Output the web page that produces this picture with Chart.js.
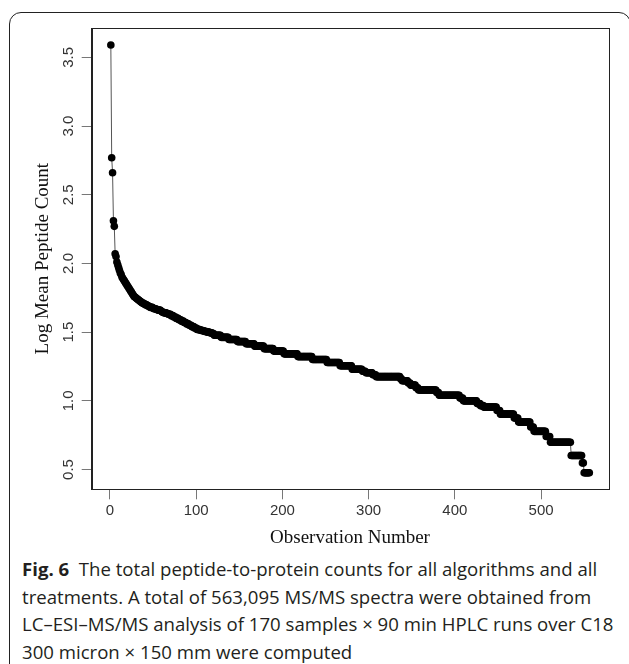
<!DOCTYPE html>
<html><head><meta charset="utf-8">
<script src="https://cdn.jsdelivr.net/npm/chart.js@4"></script>
<style>
html,body{margin:0;padding:0;background:#fff;width:629px;height:664px;overflow:hidden;position:relative}
#frame{position:absolute;left:9px;top:12px;width:622px;height:720px;border:1.5px solid #222;border-radius:12px;box-sizing:border-box}
#wrap{position:absolute;left:0;top:0;width:629px;height:550px}
#cap{position:absolute;left:22px;top:555px;width:610px;font-family:"Open Sans";font-size:18.6px;line-height:27.5px;color:#231f20;white-space:nowrap}
</style></head><body>
<div id="frame"></div>
<div id="wrap"><canvas id="c" width="629" height="550"></canvas></div>
<div id="cap"><b>Fig. 6</b>&nbsp; The total peptide-to-protein counts for all algorithms and all<br>treatments. A total of 563,095 MS/MS spectra were obtained from<br>LC–ESI–MS/MS analysis of 170 samples × 90 min HPLC runs over C18<br>300 micron × 150 mm were computed</div>
<script>
// Sorted log mean peptide counts, run-length: level value and how many observations share it
const obsLevels = [
  3.59, 2.77, 2.66, 2.31, 2.27, 2.07, 2.05,
  2.01, 1.99, 1.97, 1.95, 1.93, 1.92, 1.90, 1.89, 1.88, 1.87, 1.86, 1.85, 1.84, 1.83, 1.82, 1.81, 1.80, 1.79, 1.78, 1.77, 1.76, 1.755, 1.75,
  1.745, 1.74, 1.735, 1.73, 1.725, 1.72, 1.715, 1.71, 1.705, 1.70, 1.695, 1.69, 1.685, 1.68, 1.675, 1.67, 1.665, 1.66, 1.655, 1.65,
  1.645, 1.64, 1.635, 1.63, 1.62, 1.61, 1.60, 1.59, 1.58, 1.57, 1.56, 1.55, 1.54, 1.53, 1.52, 1.515, 1.51, 1.505, 1.50, 1.495, 1.49,
  1.477, 1.462, 1.447, 1.431, 1.415, 1.398, 1.380, 1.362, 1.342, 1.322, 1.301, 1.279, 1.255, 1.230, 1.215, 1.204, 1.19,
  1.176, 1.16, 1.146, 1.13, 1.114, 1.095, 1.079, 1.06, 1.041, 1.02, 1.0, 0.98, 0.965, 0.954, 0.93, 0.903,
  0.875, 0.845, 0.81, 0.778, 0.74, 0.699, 0.602, 0.548, 0.477
];
const obsRepeats = [
  1, 1, 1, 1, 1, 1, 1,
  1, 1, 1, 1, 1, 1, 1, 1, 1, 1, 1, 1, 1, 1, 1, 1, 1, 1, 1, 1, 1, 1, 1,
  1, 1, 1, 1, 1, 1, 1, 2, 1, 2, 1, 2, 1, 3, 1, 3, 2, 3, 1, 1,
  2, 3, 2, 3, 3, 3, 3, 3, 3, 3, 3, 3, 3, 3, 3, 3, 3, 3, 3, 3, 2,
  8, 9, 10, 10, 10, 11, 11, 12, 16, 17, 17, 15, 14, 12, 4, 8, 4,
  28, 2, 7, 3, 6, 3, 21, 3, 24, 4, 16, 4, 4, 15, 4, 16,
  5, 14, 4, 14, 5, 24, 13, 2, 7
];
const xTickValues = [0, 100, 200, 300, 400, 500];
const yTickValues = [0.5, 1.0, 1.5, 2.0, 2.5, 3.0, 3.5];
const xTitle = 'Observation Number';
const yTitle = 'Log Mean Peptide Count';

const points = [];
let obs = 1;
obsLevels.forEach((v, i) => {
  for (let k = 0; k < obsRepeats[i]; k++) { points.push({x: obs, y: v}); obs++; }
});

const boxPlugin = {
  id: 'box',
  afterDraw(chart) {
    const {ctx, chartArea: a} = chart;
    ctx.save();
    ctx.strokeStyle = '#222';
    ctx.lineWidth = 1;
    ctx.strokeRect(Math.round(a.left) + 0.5, Math.round(a.top) + 0.5, Math.round(a.right - a.left), Math.round(a.bottom - a.top));
    ctx.restore();
  }
};

new Chart(document.getElementById('c'), {
  type: 'line',
  data: {
    datasets: [{
      data: points,
      borderColor: '#555',
      borderWidth: 1,
      pointRadius: 3.8,
      pointBackgroundColor: '#000',
      pointBorderWidth: 0,
      pointBorderColor: '#000',
      tension: 0
    }]
  },
  options: {
    responsive: false,
    animation: false,
    devicePixelRatio: 1,
    layout: {padding: {left: 32, top: 28, right: 20.7, bottom: 0}},
    plugins: {legend: {display: false}, tooltip: {enabled: false}},
    scales: {
      x: {
        type: 'linear',
        min: -21.2, max: 578,
        afterBuildTicks: s => { s.ticks = xTickValues.map(v => ({value: v})); },
        afterFit: s => { s.height = 60.7; },
        grid: {display: true, drawOnChartArea: false, drawTicks: true, tickLength: 10, color: '#777'},
        border: {display: true, color: '#222'},
        ticks: {font: {family: '"Liberation Sans", Arial', size: 15}, color: '#333', padding: 3, maxRotation: 0},
        title: {display: true, text: xTitle, font: {family: '"Liberation Serif", "Times New Roman"', size: 19}, color: '#111', padding: {top: 0, bottom: 1}}
      },
      y: {
        type: 'linear',
        min: 0.356, max: 3.714,
        afterBuildTicks: s => { s.ticks = yTickValues.map(v => ({value: v})); },
        afterFit: s => { s.width = 59.7; },
        grid: {display: true, drawOnChartArea: false, drawTicks: true, tickLength: 10, color: '#777'},
        border: {display: true, color: '#222'},
        ticks: {font: {family: '"Liberation Sans", Arial', size: 15}, color: '#333', padding: 2.5, minRotation: 90, maxRotation: 90, crossAlign: 'center', callback: v => v.toFixed(1)},
        title: {display: true, text: yTitle, font: {family: '"Liberation Serif", "Times New Roman"', size: 19}, color: '#111', padding: {top: 0, bottom: 0}}
      }
    }
  },
  plugins: [boxPlugin]
});
</script>
</body></html>
